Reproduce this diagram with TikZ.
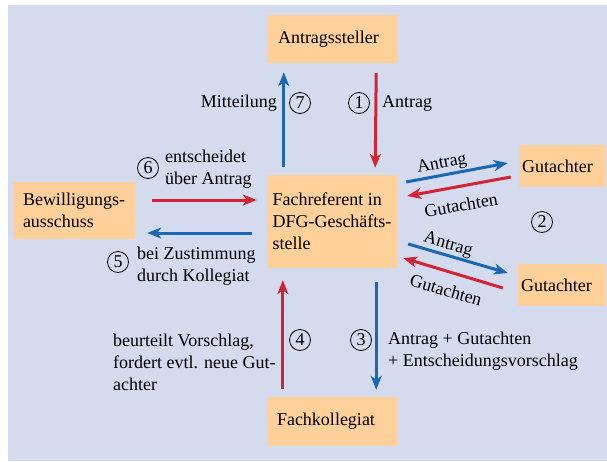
\documentclass[tikz,border=0pt]{standalone}
\usepackage{fontspec}
\setmainfont{Liberation Serif}
\usetikzlibrary{arrows.meta,calc}
\definecolor{bgblue}{RGB}{212,219,238}
\definecolor{boxfill}{RGB}{255,208,154}
\definecolor{arrblue}{RGB}{26,104,180}
\definecolor{arrred}{RGB}{210,36,52}
\newcommand{\diagfont}{\fontsize{18}{22}\selectfont}
\tikzset{
  box/.style={fill=boxfill,inner ysep=0pt,font=\diagfont},
  flow/.style={line width=3pt,-{Stealth[length=14pt,width=11pt,inset=4pt]}},
  num/.style={circle,draw,line width=0.8pt,minimum size=21pt,inner sep=0pt,font=\diagfont},
  lbl/.style={inner sep=0pt,font=\diagfont,align=left}
}
\begin{document}
\begin{tikzpicture}[x=1pt,y=-1pt]
                 \useasboundingbox (0,0) rectangle (607,461);
                 \fill[bgblue] (8,5) rectangle (607,461);
                 % boxes
                 \node[box,minimum height=48pt,inner xsep=11pt,text width=109pt,align=left](ant)at(332.5,39){Antragssteller};
                 \node[box,minimum width=130pt,minimum height=93pt,align=left](ref)at(332,221.5){Fachreferent in\\DFG-Geschäfts-\\stelle};
                 \node[box,minimum width=122pt,minimum height=57pt,align=left](bew)at(74,210.5){Bewilligungs-\\ausschuss};
                 \node[box,minimum height=42pt,inner xsep=3pt,text width=80pt,align=left](gut1)at(562,166){Gutachter};
                 \node[box,minimum height=42pt,inner xsep=3pt,text width=81pt,align=left](gut2)at(561.5,285){Gutachter};
                 \node[box,minimum height=49pt,inner xsep=10pt,text width=110pt,align=left](kol)at(332,421.5){Fachkollegiat};
                 % arrows
                 \draw[flow,arrblue] ([xshift=17pt,yshift=8pt]ref.north west) -- ([xshift=17pt,yshift=-9pt]ant.south west);
                 \draw[flow,arrred] ([xshift=-22pt,yshift=-10pt]ant.south east) -- ([xshift=-22pt,yshift=7pt]ref.north east);
                 \draw[flow,arrred] ([xshift=17pt,yshift=10.5pt]bew.east) -- ([xshift=-10pt,yshift=21.5pt]ref.west);
                 \draw[flow,arrblue] ([xshift=-15pt,yshift=-11.5pt]ref.west) -- ([xshift=12pt,yshift=-22.5pt]bew.east);
                 \draw[flow,arrblue] ([xshift=9pt,yshift=39.5pt]ref.east) -- ([xshift=-11pt,yshift=3pt]gut1.west);
                 \draw[flow,arrred] ([xshift=-8pt,yshift=-11pt]gut1.west) -- ([xshift=10pt,yshift=25.5pt]ref.east);
                 \draw[flow,arrblue] ([xshift=11pt,yshift=-22.5pt]ref.east) -- ([xshift=-10pt,yshift=12pt]gut2.west);
                 \draw[flow,arrred] ([xshift=-15pt,yshift=-3pt]gut2.west) -- ([xshift=6pt,yshift=-36.5pt]ref.east);
                 \draw[flow,arrred] ([xshift=16pt,yshift=8pt]kol.north west) -- ([xshift=16pt,yshift=-12pt]ref.south west);
                 \draw[flow,arrblue] ([xshift=-21pt,yshift=-14pt]ref.south east) -- ([xshift=-21pt,yshift=7pt]kol.north east);
                 % step numbers
                 \node[num](n1)at(359,103){1};
                 \node[num](n2)at(542,222){2};
                 \node[num](n3)at(361,340){3};
                 \node[num](n4)at(300,340){4};
                 \node[num](n5)at(118,262){5};
                 \node[num](n6)at(148,168){6};
                 \node[num](n7)at(300,103){7};
                 % labels
                 \node[lbl,anchor=east](mit)at(277,103){Mitteilung};
                 \node[lbl,anchor=west](antr)at(382,103){Antrag};
                 \node[lbl,anchor=west](ents)at(165,169){entscheidet\\über Antrag};
                 \node[lbl,anchor=west](zust)at(137,266){bei Zustimmung\\durch Kollegiat};
                 \node[lbl,anchor=west](beur)at(113,362){beurteilt Vorschlag,\\fordert evtl. neue Gut-\\achter};
                 \node[lbl,anchor=west](vors)at(388,351){Antrag + Gutachten\\+ Entscheidungsvorschlag};
                 \node[lbl,rotate=10.5](ga1)at(442,164){Antrag};
                 \node[lbl,rotate=10](gg1)at(461,205){Gutachten};
                 \node[lbl,rotate=-16](ga2)at(448,245){Antrag};
                 \node[lbl,rotate=-16](gg2)at(446,290){Gutachten};
\end{tikzpicture}
\end{document}
